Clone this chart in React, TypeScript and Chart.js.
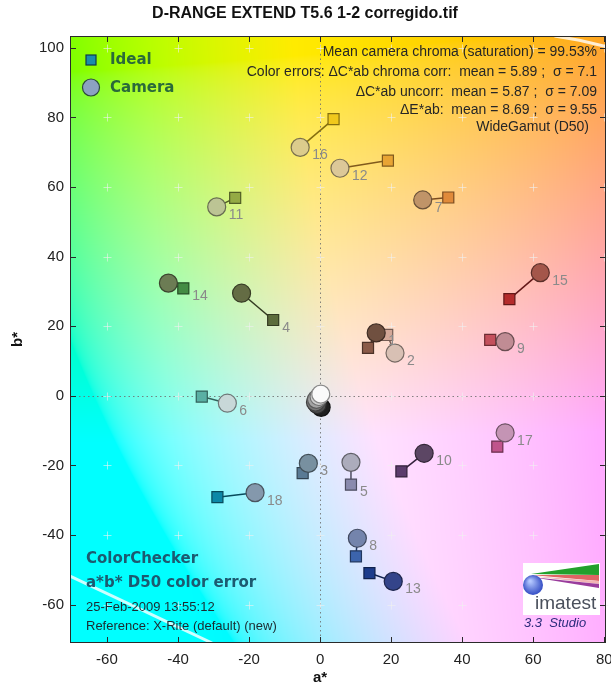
import React, { useEffect, useRef } from "react";
import { Chart, registerables } from "chart.js";
Chart.register(...registerables);

const TITLE = "D-RANGE EXTEND T5.6 1-2 corregido.tif";
const X_LABEL = "a*";
const Y_LABEL = "b*";
const X_TICKS = [-60, -40, -20, 0, 20, 40, 60, 80];
const Y_TICKS = [-60, -40, -20, 0, 20, 40, 60, 80, 100];
const X_MIN = -70.4;
const X_MAX = 80.5;
const Y_MIN = -71;
const Y_MAX = 103.4;

const PATCHES = [1, 2, 3, 4, 5, 6, 7, 8, 9, 10, 11, 12, 13, 14, 15, 16, 17, 18, 19, 20, 21, 22, 23, 24];
const IDEAL_A = [13.5, 18.9, -4.9, -13.2, 8.7, -33.3, 36.1, 10.1, 47.9, 22.9, -23.9, 19.1, 13.9, -38.5, 53.3, 3.8, 49.9, -28.9, 0, 0, 0, 0, 0, 0];
const IDEAL_B = [13.8, 17.5, -22.2, 21.8, -25.5, -0.2, 57.0, -46.1, 16.1, -21.7, 56.9, 67.6, -50.9, 30.9, 27.8, 79.5, -14.6, -29.1, 0, 0, 0, 0, 0, 0];
const CAMERA_A = [15.8, 21.1, -3.3, -22.1, 8.7, -26.1, 28.9, 10.5, 52.1, 29.3, -29.1, 5.6, 20.6, -42.7, 62.0, -5.6, 52.1, -18.3, 0.2, -0.3, -1.0, -1.3, -0.8, 0.3];
const CAMERA_B = [18.1, 12.3, -19.4, 29.5, -19.1, -2.1, 56.3, -40.9, 15.6, -16.5, 54.3, 65.4, -53.3, 32.4, 35.4, 71.4, -10.6, -27.8, 0.5, -0.2, -1.0, -1.8, -2.5, -3.3];
const IDEAL_COLORS = ["#8a5a48", "#d4a898", "#5a7a94", "#5c6c3c", "#8a8aae", "#5ab0a4", "#e08a3a", "#3c64ac", "#c4505c", "#5c3c6c", "#94aa44", "#e8a434", "#1c3c8c", "#448c44", "#b42c2c", "#f0c81c", "#c0548c", "#0c88a8", "#f2f2f2", "#c8c8c8", "#a0a0a0", "#7a7a7a", "#555555", "#343434"];
const CAMERA_COLORS = ["#705040", "#d8c0b4", "#7890a0", "#646c44", "#acacbc", "#c8d8d8", "#c09468", "#7484ac", "#c08c94", "#5c4664", "#bcc494", "#dcc898", "#34448a", "#6c7c54", "#a4564a", "#dccc8c", "#c494b4", "#8498ac", "#fafafa", "#cfcfcf", "#a4a4a4", "#787878", "#4c4c4c", "#1e1e1e"];
const LABELLED = 18; // patches 1..18 carry number labels
const LABEL_ON_IDEAL = [4, 5, 14];

const GAMUT_LOW_A = [-70.4, -30.4];
const GAMUT_LOW_B = [-51.8, -71];
const GAMUT_HIGH_A = [66, 73, 80.5];
const GAMUT_HIGH_B = [103.4, 102.2, 100.4];

const INFO_LINES = [
  "Mean camera chroma (saturation) = 99.53%",
  "Color errors: \u0394C*ab chroma corr:  mean = 5.89 ;  \u03c3 = 7.1",
  "\u0394C*ab uncorr:  mean = 5.87 ;  \u03c3 = 7.09",
  "\u0394E*ab:  mean = 8.69 ;  \u03c3 = 9.55",
  "WideGamut (D50)",
];
const NOTE_BOLD = ["ColorChecker", "a*b* D50 color error"];
const NOTE_PLAIN = ["25-Feb-2009 13:55:12", "Reference: X-Rite (default) (new)"];
const LEGEND = ["Ideal", "Camera"];
const LOGO_TEXT = "imatest";
const LOGO_VERSION = "3.3  Studio";

const BG_L = 92.5;
const BG_CHROMA = 0.92;
const SANS = '"Liberation Sans", Arial, sans-serif';
const BOLD_SANS = '"DejaVu Sans", Verdana, sans-serif';

function darker(hex: string, f: number) {
  const n = parseInt(hex.slice(1), 16);
  const r = Math.round(((n >> 16) & 255) * f);
  const g = Math.round(((n >> 8) & 255) * f);
  const b = Math.round((n & 255) * f);
  return `rgb(${r},${g},${b})`;
}

function labToRgb(L: number, a: number, b: number): [number, number, number] {
  const fy = (L + 16) / 116;
  const fx = fy + a / 500;
  const fz = fy - b / 200;
  const finv = (t: number) => (t * t * t > 0.008856 ? t * t * t : (t - 16 / 116) / 7.787);
  const X = 0.9642 * finv(fx);
  const Y = finv(fy);
  const Z = 0.8249 * finv(fz);
  const r = 3.1338561 * X - 1.6168667 * Y - 0.4906146 * Z;
  const g = -0.9787684 * X + 1.9161415 * Y + 0.033454 * Z;
  const bb = 0.0719453 * X - 0.2289914 * Y + 1.4052427 * Z;
  const gam = (v: number) => {
    v = Math.max(0, Math.min(1, v));
    return 255 * (v <= 0.0031308 ? 12.92 * v : 1.055 * Math.pow(v, 1 / 2.4) - 0.055);
  };
  return [gam(r), gam(g), gam(bb)];
}

let bgCache: HTMLCanvasElement | null = null;

const bgPlugin = {
  id: "labBackground",
  beforeDraw(chart: any) {
    const { ctx, chartArea: ca } = chart;
    const xs = chart.scales.x;
    const ys = chart.scales.y;
    const w = Math.round(ca.right - ca.left);
    const h = Math.round(ca.bottom - ca.top);
    if (!bgCache || bgCache.width !== w || bgCache.height !== h) {
      bgCache = document.createElement("canvas");
      bgCache.width = w;
      bgCache.height = h;
      const c2 = bgCache.getContext("2d")!;
      const img = c2.createImageData(w, h);
      const avals: number[] = [];
      for (let i = 0; i < w; i++) avals.push(xs.getValueForPixel(ca.left + i + 0.5) * BG_CHROMA);
      for (let j = 0; j < h; j++) {
        const bv = ys.getValueForPixel(ca.top + j + 0.5) * BG_CHROMA;
        for (let i = 0; i < w; i++) {
          const [r, g, b] = labToRgb(BG_L, avals[i], bv);
          const k = (j * w + i) * 4;
          img.data[k] = r;
          img.data[k + 1] = g;
          img.data[k + 2] = b;
          img.data[k + 3] = 255;
        }
      }
      c2.putImageData(img, 0, 0);
    }
    ctx.drawImage(bgCache, ca.left, ca.top);
  },
};

const gridPlugin = {
  id: "gridMarks",
  beforeDatasetsDraw(chart: any) {
    const { ctx, chartArea: ca } = chart;
    const xs = chart.scales.x;
    const ys = chart.scales.y;
    ctx.save();
    ctx.strokeStyle = "rgba(110,110,110,0.85)";
    ctx.lineWidth = 1;
    ctx.setLineDash([1.5, 3]);
    const x0 = Math.round(xs.getPixelForValue(0)) + 0.5;
    const y0 = Math.round(ys.getPixelForValue(0)) + 0.5;
    ctx.beginPath();
    ctx.moveTo(x0, ca.top);
    ctx.lineTo(x0, ca.bottom);
    ctx.moveTo(ca.left, y0);
    ctx.lineTo(ca.right, y0);
    ctx.stroke();
    ctx.setLineDash([]);
    ctx.strokeStyle = "rgba(240,240,240,0.6)";
    ctx.beginPath();
    for (const xv of X_TICKS) {
      for (const yv of Y_TICKS) {
        const px = Math.round(xs.getPixelForValue(xv)) + 0.5;
        const py = Math.round(ys.getPixelForValue(yv)) + 0.5;
        ctx.moveTo(px - 4, py);
        ctx.lineTo(px + 4, py);
        ctx.moveTo(px, py - 4);
        ctx.lineTo(px, py + 4);
      }
    }
    ctx.stroke();
    ctx.restore();
  },
  afterDatasetsDraw(chart: any) {
    const { ctx, chartArea: ca } = chart;
    const xs = chart.scales.x;
    const ys = chart.scales.y;
    ctx.save();
    ctx.font = `14px ${SANS}`;
    ctx.fillStyle = "#8a8a8a";
    ctx.textAlign = "left";
    ctx.textBaseline = "middle";
    for (let i = 0; i < LABELLED; i++) {
      const onIdeal = LABEL_ON_IDEAL.includes(PATCHES[i]);
      const a = onIdeal ? IDEAL_A[i] : CAMERA_A[i];
      const b = onIdeal ? IDEAL_B[i] : CAMERA_B[i];
      const px = xs.getPixelForValue(a) + (onIdeal ? 9 : 12);
      const py = ys.getPixelForValue(b) + 8;
      ctx.fillText(String(PATCHES[i]), px, py);
    }

    ctx.strokeStyle = "#2a2a2a";
    ctx.lineWidth = 1;
    ctx.strokeRect(Math.round(ca.left) + 0.5, Math.round(ca.top) + 0.5, Math.round(ca.right - ca.left) - 1, Math.round(ca.bottom - ca.top) - 1);
    ctx.beginPath();
    for (const xv of X_TICKS) {
      const px = Math.round(xs.getPixelForValue(xv)) + 0.5;
      ctx.moveTo(px, ca.bottom);
      ctx.lineTo(px, ca.bottom - 6);
      ctx.moveTo(px, ca.top);
      ctx.lineTo(px, ca.top + 6);
    }
    for (const yv of Y_TICKS) {
      const py = Math.round(ys.getPixelForValue(yv)) + 0.5;
      ctx.moveTo(ca.left, py);
      ctx.lineTo(ca.left + 6, py);
      ctx.moveTo(ca.right, py);
      ctx.lineTo(ca.right - 6, py);
    }
    ctx.stroke();

    const lx = ca.left + 21;
    ctx.fillStyle = "#1a8cac";
    ctx.strokeStyle = "#0c3a4c";
    ctx.lineWidth = 1.2;
    ctx.fillRect(lx - 5, ca.top + 19, 10, 10);
    ctx.strokeRect(lx - 5, ca.top + 19, 10, 10);
    ctx.beginPath();
    ctx.arc(lx, ca.top + 51.5, 8.5, 0, Math.PI * 2);
    ctx.fillStyle = "#8ca2c2";
    ctx.fill();
    ctx.strokeStyle = "#2c4a3c";
    ctx.stroke();
    ctx.font = `bold 15px ${BOLD_SANS}`;
    ctx.fillStyle = "#2a6a3a";
    ctx.textBaseline = "middle";
    ctx.fillText(LEGEND[0], ca.left + 40, ca.top + 24);
    ctx.fillText(LEGEND[1], ca.left + 40, ca.top + 52);

    ctx.font = `14px ${SANS}`;
    ctx.fillStyle = "#262626";
    ctx.textAlign = "right";
    const infoRight = [ca.right - 9, ca.right - 9, ca.right - 9, ca.right - 9, ca.right - 17];
    const infoY = [16, 36, 56, 74, 91];
    INFO_LINES.forEach((t, i) => ctx.fillText(t, infoRight[i], ca.top + infoY[i]));

    ctx.textAlign = "left";
    ctx.font = `bold 15px ${BOLD_SANS}`;
    ctx.fillStyle = "#1c5a70";
    NOTE_BOLD.forEach((t, i) => ctx.fillText(t, ca.left + 16, ca.bottom - 84 + i * 24));
    ctx.font = `13px ${SANS}`;
    ctx.fillStyle = "#1c2a30";
    NOTE_PLAIN.forEach((t, i) => ctx.fillText(t, ca.left + 16, ca.bottom - 36 + i * 19));

    const gx = ca.right - 83;
    const gy = ca.bottom - 80;
    ctx.fillStyle = "#ffffff";
    ctx.fillRect(gx, gy, 77, 52);
    const tri = (col: string, pts: number[][]) => {
      ctx.fillStyle = col;
      ctx.beginPath();
      ctx.moveTo(gx + pts[0][0], gy + pts[0][1]);
      for (let k = 1; k < pts.length; k++) ctx.lineTo(gx + pts[k][0], gy + pts[k][1]);
      ctx.closePath();
      ctx.fill();
    };
    tri("#23a02c", [[8, 11], [76, 1], [76, 12]]);
    tri("#e06464", [[8, 12], [76, 12], [76, 18]]);
    tri("#f2b4b4", [[8, 13], [76, 18], [76, 21]]);
    tri("#9a3c9c", [[8, 14], [76, 21], [76, 25]]);
    const grd = ctx.createRadialGradient(gx + 7, gy + 18, 1, gx + 10, gy + 22, 11);
    grd.addColorStop(0, "#b4c8ff");
    grd.addColorStop(1, "#2a44c0");
    ctx.fillStyle = grd;
    ctx.beginPath();
    ctx.arc(gx + 10, gy + 22, 10, 0, Math.PI * 2);
    ctx.fill();
    ctx.font = `19px ${SANS}`;
    ctx.fillStyle = "#4a505c";
    ctx.textAlign = "left";
    ctx.fillText(LOGO_TEXT, gx + 12, gy + 41);
    ctx.font = `italic 13px ${SANS}`;
    ctx.fillStyle = "#2c2c7c";
    ctx.fillText(LOGO_VERSION, gx + 1, gy + 60);

    ctx.fillStyle = "#111";
    ctx.textAlign = "center";
    ctx.font = `bold 16px ${SANS}`;
    ctx.fillText(TITLE, 305, 14);
    ctx.font = `bold 15px ${SANS}`;
    ctx.fillText(X_LABEL, (ca.left + ca.right) / 2 - 18, 678);
    ctx.save();
    ctx.translate(18, (ca.top + ca.bottom) / 2);
    ctx.rotate(-Math.PI / 2);
    ctx.fillText(Y_LABEL, 0, 0);
    ctx.restore();
    ctx.restore();
  },
};

export default function App() {
  const ref = useRef<HTMLCanvasElement>(null);
  useEffect(() => {
    if (!ref.current) return;
    bgCache = null;
    const n = PATCHES.length;
    const order = [...Array(LABELLED).keys(), ...Array.from({ length: n - LABELLED }, (_, k) => n - 1 - k)];
    const lineSets = PATCHES.map((p, i) => ({
      type: "line" as const,
      label: `patch ${p}`,
      data: [
        { x: IDEAL_A[i], y: IDEAL_B[i] },
        { x: CAMERA_A[i], y: CAMERA_B[i] },
      ],
      borderColor: darker(IDEAL_COLORS[i], 0.55),
      borderWidth: 1.5,
      pointRadius: 0,
      showLine: true,
      order: 3,
    }));
    const squares = {
      type: "scatter" as const,
      label: "Ideal",
      data: order.map((i) => ({ x: IDEAL_A[i], y: IDEAL_B[i] })),
      pointStyle: "rect",
      pointRadius: 7.8,
      backgroundColor: order.map((i) => IDEAL_COLORS[i]),
      borderColor: order.map((i) => darker(IDEAL_COLORS[i], 0.55)),
      borderWidth: 1.2,
      order: 2,
    };
    const circles = {
      type: "scatter" as const,
      label: "Camera",
      data: order.map((i) => ({ x: CAMERA_A[i], y: CAMERA_B[i] })),
      pointStyle: "circle",
      pointRadius: 9,
      backgroundColor: order.map((i) => CAMERA_COLORS[i]),
      borderColor: order.map((i) => darker(CAMERA_COLORS[i], 0.55)),
      borderWidth: 1.2,
      order: 1,
    };
    const gamut = [
      { a: GAMUT_LOW_A, b: GAMUT_LOW_B },
      { a: GAMUT_HIGH_A, b: GAMUT_HIGH_B },
    ].map((g, k) => ({
      type: "line" as const,
      label: `gamut ${k}`,
      data: g.a.map((a, j) => ({ x: a, y: g.b[j] })),
      borderColor: "rgba(255,255,255,0.8)",
      borderWidth: 3,
      pointRadius: 0,
      showLine: true,
      order: 4,
    }));
    const tickFont = { family: SANS, size: 15 };
    const chart = new Chart(ref.current, {
      type: "scatter",
      data: { datasets: [...gamut, ...lineSets, squares, circles] as any },
      options: {
        animation: false,
        responsive: false,
        devicePixelRatio: 1,
        events: [],
        layout: { autoPadding: false, padding: { top: 36, right: 5, left: 0, bottom: 0 } } as any,
        plugins: { legend: { display: false }, tooltip: { enabled: false }, title: { display: false } },
        scales: {
          x: {
            type: "linear",
            min: X_MIN,
            max: X_MAX,
            afterBuildTicks: (s: any) => {
              s.ticks = X_TICKS.map((v) => ({ value: v }));
            },
            afterFit: (s: any) => {
              s.height = 44;
              s.paddingLeft = 0;
              s.paddingRight = 0;
            },
            grid: { display: false, drawTicks: false },
            border: { display: false },
            ticks: { padding: 8, font: tickFont, color: "#222", maxRotation: 0, autoSkip: false },
          },
          y: {
            type: "linear",
            min: Y_MIN,
            max: Y_MAX,
            afterBuildTicks: (s: any) => {
              s.ticks = Y_TICKS.map((v) => ({ value: v }));
            },
            afterFit: (s: any) => {
              s.width = 70;
              s.paddingTop = 0;
              s.paddingBottom = 0;
            },
            grid: { display: false, drawTicks: false },
            border: { display: false },
            ticks: { padding: 6, font: tickFont, color: "#222", autoSkip: false },
          },
        },
      },
      plugins: [bgPlugin, gridPlugin],
    });
    return () => chart.destroy();
  }, []);
  return (
    <div style={{ position: "fixed", left: 0, top: 0, width: 611, height: 687, background: "#fff" }}>
      <canvas ref={ref} width={611} height={687} style={{ width: 611, height: 687, display: "block" }} />
    </div>
  );
}
